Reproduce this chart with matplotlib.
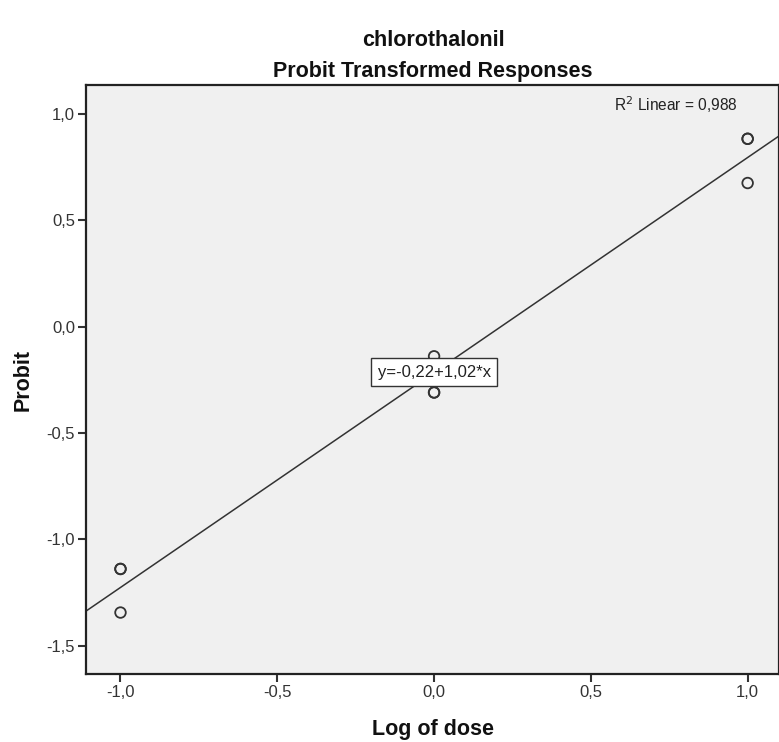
import numpy as np
import matplotlib
matplotlib.use("Agg")
import matplotlib.pyplot as plt
from matplotlib.ticker import FuncFormatter, FixedLocator

plt.rcParams['font.family'] = ['Liberation Sans', 'DejaVu Sans']

# data
log_dose = [-1.0, -1.0, -1.0, 0.0, 0.0, 0.0, 1.0, 1.0, 1.0]
probit = [-1.14, -1.14, -1.345, -0.14, -0.31, -0.31, 0.883, 0.883, 0.675]
xticks = [-1.0, -0.5, 0.0, 0.5, 1.0]
yticks = [-1.5, -1.0, -0.5, 0.0, 0.5, 1.0]
suptitle = "chlorothalonil"
title = "Probit Transformed Responses"
xlabel = "Log of dose"
ylabel = "Probit"
r2_text = "R$^2$ Linear = 0,988"
eq_text = "y=-0,22+1,02*x"

x = np.array(log_dose)
y = np.array(probit)
slope, intercept = np.polyfit(x, y, 1)

W, H = 779, 742
fig = plt.figure(figsize=(W / 100, H / 100), dpi=100)
ax = fig.add_axes([86 / W, 1 - 674 / H, (W - 86) / W, (674 - 85) / H])
ax.set_facecolor('#F0F0F0')
xlim = (-1.11, 1.10)
ax.set_xlim(*xlim)
ax.set_ylim(-1.634, 1.136)

xl = np.array(xlim)
ax.plot(xl, intercept + slope * xl, color='#333333', lw=1.1, zorder=2)
ax.scatter(x, y, s=58, facecolors='none', edgecolors='#333333', linewidths=1.3, zorder=3)

ax.text(0.0, -0.214, eq_text, ha='center', va='center', fontsize=12,
        color='#222222', zorder=5,
        bbox=dict(boxstyle='square,pad=0.38', fc='white', ec='#333333', lw=1.0))
ax.text(0.941, 0.966, r2_text, transform=ax.transAxes, ha='right', va='center',
        fontsize=11.2, color='#222222')

fmt = FuncFormatter(lambda v, p: f"{v:.1f}".replace('.', ','))
ax.xaxis.set_major_locator(FixedLocator(xticks))
ax.yaxis.set_major_locator(FixedLocator(yticks))
ax.xaxis.set_major_formatter(fmt)
ax.yaxis.set_major_formatter(fmt)
ax.tick_params(axis='both', direction='out', length=6, width=1.5, color='#333333',
               labelsize=12, labelcolor='#333333', pad=2)
for s in ax.spines.values():
    s.set_color('#222222')
    s.set_linewidth(1.6)

fig.text(433 / W, 1 - 729 / H, xlabel, ha='center', va='center', fontsize=15.5,
         fontweight='bold', color='#111111')
fig.text(23 / W, 1 - 380 / H, ylabel, ha='center', va='center', rotation=90,
         fontsize=15.5, fontweight='bold', color='#111111')
fig.text(433 / W, 1 - 72 / H, title, ha='center', va='center', fontsize=15.5,
         fontweight='bold', color='#111111')
fig.text(433 / W, 1 - 40 / H, suptitle, ha='center', va='center', fontsize=15.5,
         fontweight='bold', color='#111111')

fig.savefig("out.png", dpi=100)
